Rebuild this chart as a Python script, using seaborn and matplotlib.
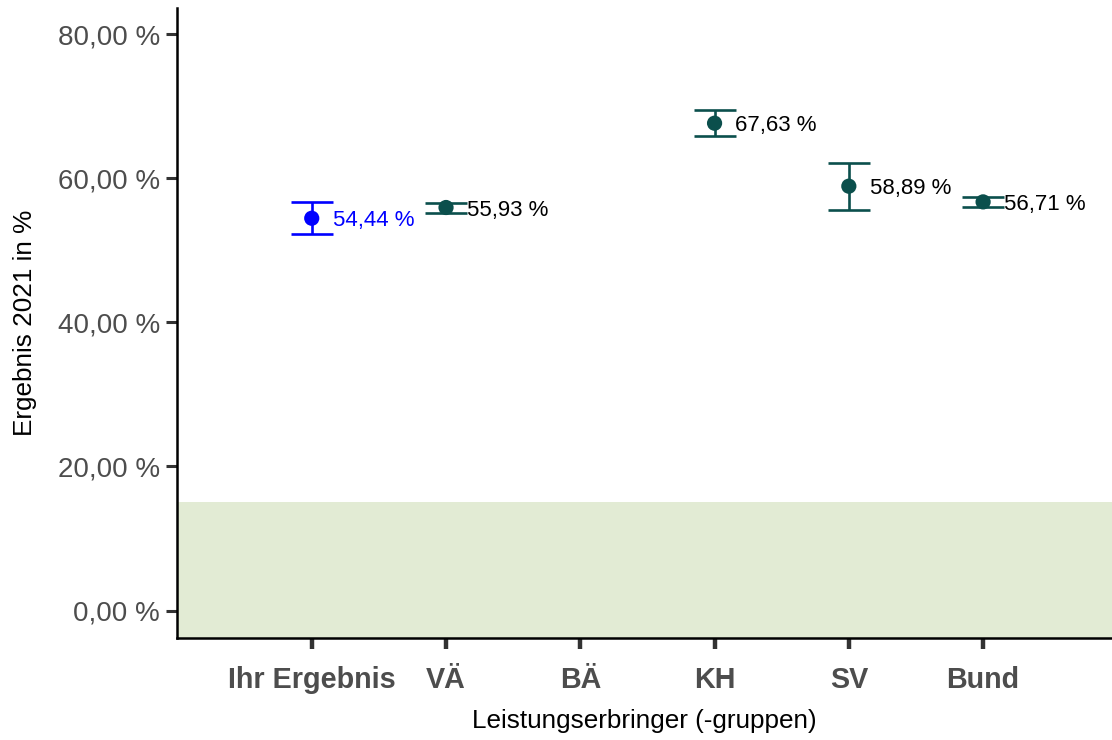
import numpy as np
import pandas as pd
import matplotlib
matplotlib.use("Agg")
import matplotlib.pyplot as plt
import seaborn as sns
from matplotlib.ticker import FuncFormatter

# values
categories = ["Ihr Ergebnis", "VÄ", "BÄ", "KH", "SV", "Bund"]
values = [54.44, 55.93, np.nan, 67.63, 58.89, 56.71]
ci_lower = [52.27, 55.2, np.nan, 65.79, 55.6, 56.05]
ci_upper = [56.65, 56.6, np.nan, 69.48, 62.1, 57.35]
point_colors = ["#0000ff", "#0b4f4c", "#0b4f4c", "#0b4f4c", "#0b4f4c", "#0b4f4c"]
label_colors = ["#0000ff", "black", "black", "black", "black", "black"]
ref_band = (-10, 15)

df = pd.DataFrame({"cat": categories, "value": values, "lo": ci_lower, "hi": ci_upper,
                   "color": point_colors, "lcolor": label_colors})
df["pos"] = np.arange(len(df))

sns.set_style("white")
plt.rcParams["font.family"] = ["Liberation Sans", "DejaVu Sans"]

fig = plt.figure(figsize=(11.12, 7.4), dpi=100)
ax = fig.add_axes([0.159, 0.138, 0.841, 0.851])

# reference range band
ax.axhspan(ref_band[0], ref_band[1], color="#e2ebd4", zorder=0, lw=0)

valid = df.dropna(subset=["value"])
for _, r in valid.iterrows():
    ax.errorbar(r["pos"], r["value"], yerr=[[r["value"] - r["lo"]], [r["hi"] - r["value"]]],
                fmt="none", ecolor=r["color"], elinewidth=1.9, capsize=15, capthick=1.9, zorder=2)
    ax.annotate(f"{r['value']:.2f} %".replace(".", ","), (r["pos"], r["value"]),
                xytext=(15, 0), textcoords="offset points", ha="left", va="center_baseline",
                fontsize=16, color=r["lcolor"])

sns.scatterplot(data=valid, x="pos", y="value", hue="cat",
                palette=dict(zip(valid["cat"], valid["color"])),
                s=120, edgecolor="none", legend=False, zorder=3, ax=ax)

ax.set_xlim(-1.005, 5.96)
ax.set_ylim(-3.8, 83.6)
ax.set_xticks(df["pos"])
ax.set_xticklabels(categories, fontweight="bold", fontsize=20.7, color="#4d4d4d")
ax.set_yticks([0, 20, 40, 60, 80])
ax.yaxis.set_major_formatter(FuncFormatter(lambda v, p: f"{v:.2f} %".replace(".", ",")))
ax.tick_params(axis="y", labelsize=20, labelcolor="#4d4d4d", length=8, width=2.2,
               color="#333333", pad=4, left=True)
ax.tick_params(axis="x", length=8, width=3.2, color="#333333", pad=12, bottom=True)

ax.set_xlabel("Leistungserbringer (-gruppen)", fontsize=18.8, labelpad=11, color="black")
ax.set_ylabel("Ergebnis 2021 in %", fontsize=18.8, labelpad=15, color="black")

for side in ["top", "right"]:
    ax.spines[side].set_visible(False)
for side in ["left", "bottom"]:
    ax.spines[side].set_linewidth(1.8)
    ax.spines[side].set_color("black")

fig.savefig("out.png", dpi=100)
